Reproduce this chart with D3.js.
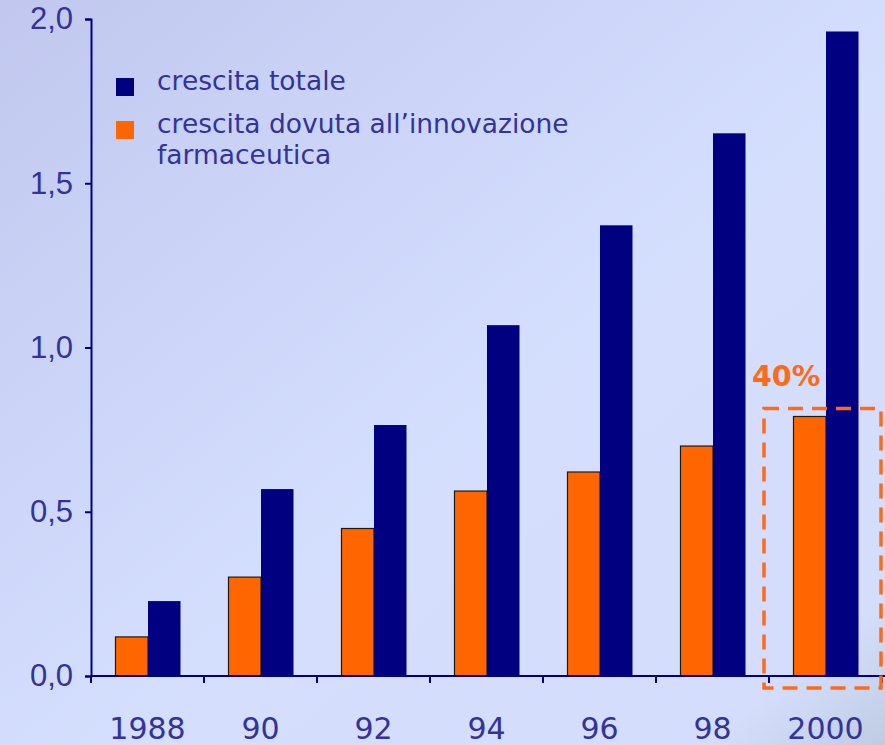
<!DOCTYPE html>
<html>
<head>
<meta charset="utf-8">
<script src="https://cdn.jsdelivr.net/npm/d3@7"></script>
<style>
  html, body { margin: 0; padding: 0; overflow: hidden; }
  svg { display: block; font-family: "DejaVu Sans", Verdana, sans-serif; }
</style>
</head>
<body>
<svg width="885" height="745"></svg>
<script>
// dati
var anni = ["1988", "90", "92", "94", "96", "98", "2000"];
var crescitaTotale = [0.228, 0.569, 0.764, 1.068, 1.372, 1.652, 1.962];
var crescitaInnovazione = [0.119, 0.301, 0.449, 0.563, 0.621, 0.700, 0.790];
var yTicks = [0, 0.5, 1.0, 1.5, 2.0];
var serie = ["innovazione", "totale"];
var legenda = [
  {key: "totale", lines: ["crescita totale"]},
  {key: "innovazione", lines: ["crescita dovuta all\u2019innovazione", "farmaceutica"]}
];

var width = 885,
    height = 745;

var colori = {totale: "#000080", innovazione: "#ff6600"};
var testo = "#333399";

var svg = d3.select("svg");

// sfondo sfumato
var defs = svg.append("defs");
var grad = defs.append("linearGradient")
    .attr("id", "bg")
    .attr("x1", "0%").attr("y1", "0%")
    .attr("x2", "100%").attr("y2", "100%");
grad.append("stop").attr("offset", "0%").attr("stop-color", "#c1c7ee");
grad.append("stop").attr("offset", "30%").attr("stop-color", "#ccd5f8");
grad.append("stop").attr("offset", "55%").attr("stop-color", "#d4defd");
grad.append("stop").attr("offset", "90%").attr("stop-color", "#d4defc");
grad.append("stop").attr("offset", "100%").attr("stop-color", "#bfcce2");

svg.append("rect")
    .attr("width", width)
    .attr("height", height)
    .attr("fill", "url(#bg)");

// scale
var x0 = d3.scaleBand()
    .domain(anni)
    .range([91, 882]);

var x1 = d3.scaleBand()
    .domain(serie)
    .range([24.5, 89.5]);

var y = d3.scaleLinear()
    .domain([0, 2])
    .range([676, 19]);

// barre
var gruppi = svg.append("g")
    .selectAll("g")
    .data(anni)
    .enter().append("g")
    .attr("transform", function(d) { return "translate(" + x0(d) + ",0)"; });

gruppi.append("rect")
    .attr("x", x1("innovazione"))
    .attr("y", function(d, i) { return y(crescitaInnovazione[i]); })
    .attr("width", x1.bandwidth())
    .attr("height", function(d, i) { return y(0) - y(crescitaInnovazione[i]); })
    .attr("fill", colori.innovazione)
    .attr("stroke", "#1a1a1a")
    .attr("stroke-width", 1.2);

gruppi.append("rect")
    .attr("x", x1("totale"))
    .attr("y", function(d, i) { return y(crescitaTotale[i]); })
    .attr("width", x1.bandwidth())
    .attr("height", function(d, i) { return y(0) - y(crescitaTotale[i]); })
    .attr("fill", colori.totale);

// asse y
var yAxis = svg.append("g")
    .attr("transform", "translate(91,0)")
    .call(d3.axisLeft(y)
        .tickValues(yTicks)
        .tickSize(6)
        .tickPadding(12)
        .tickFormat(function(d) { return d3.format(".1f")(d).replace(".", ","); }));
yAxis.select(".domain").attr("stroke", colori.totale).attr("stroke-width", 2);
yAxis.selectAll(".tick line").attr("stroke", colori.totale).attr("stroke-width", 2);
yAxis.selectAll(".tick text")
    .attr("fill", testo)
    .style("font-size", "31px");

// asse x
var xAxis = svg.append("g");
xAxis.append("line")
    .attr("x1", 91).attr("x2", width)
    .attr("y1", y(0)).attr("y2", y(0))
    .attr("stroke", colori.totale)
    .attr("stroke-width", 2);
xAxis.selectAll(".xt")
    .data(anni.concat(["fine"]))
    .enter().append("line")
    .attr("class", "xt")
    .attr("x1", function(d) { return d === "fine" ? x0.range()[1] : x0(d); })
    .attr("x2", function(d) { return d === "fine" ? x0.range()[1] : x0(d); })
    .attr("y1", y(0))
    .attr("y2", y(0) + 7)
    .attr("stroke", colori.totale)
    .attr("stroke-width", 2);
xAxis.selectAll(".xl")
    .data(anni)
    .enter().append("text")
    .attr("class", "xl")
    .attr("x", function(d) { return x0(d) + x0.bandwidth() / 2; })
    .attr("y", 739)
    .attr("text-anchor", "middle")
    .attr("fill", testo)
    .style("font-size", "30px")
    .text(function(d) { return d; });

// legenda
var leg = svg.append("g");
var legY = [78, 121];
legenda.forEach(function(l, i) {
  leg.append("rect")
      .attr("x", 116)
      .attr("y", legY[i])
      .attr("width", 18)
      .attr("height", 18)
      .attr("fill", colori[l.key]);
  l.lines.forEach(function(t, j) {
    leg.append("text")
        .attr("x", 157)
        .attr("y", legY[i] + 12 + j * 31)
        .attr("fill", testo)
        .style("font-size", "26.5px")
        .text(t);
  });
});

// riquadro tratteggiato sul 2000
var ultimo = anni[anni.length - 1];
svg.append("rect")
    .attr("x", x0(ultimo) - 5)
    .attr("y", y(crescitaInnovazione[anni.length - 1]) - 8)
    .attr("width", x0.bandwidth() + 4)
    .attr("height", y(0) + 12 - (y(crescitaInnovazione[anni.length - 1]) - 8))
    .attr("fill", "none")
    .attr("stroke", "#ff6a1a")
    .attr("stroke-width", 3.5)
    .attr("stroke-dasharray", "15,9");

svg.append("text")
    .attr("x", x0(ultimo) - 17)
    .attr("y", 386)
    .attr("fill", "#ff6a1a")
    .style("font-size", "28.5px")
    .style("font-weight", "bold")
    .text("40%");
</script>
</body>
</html>
